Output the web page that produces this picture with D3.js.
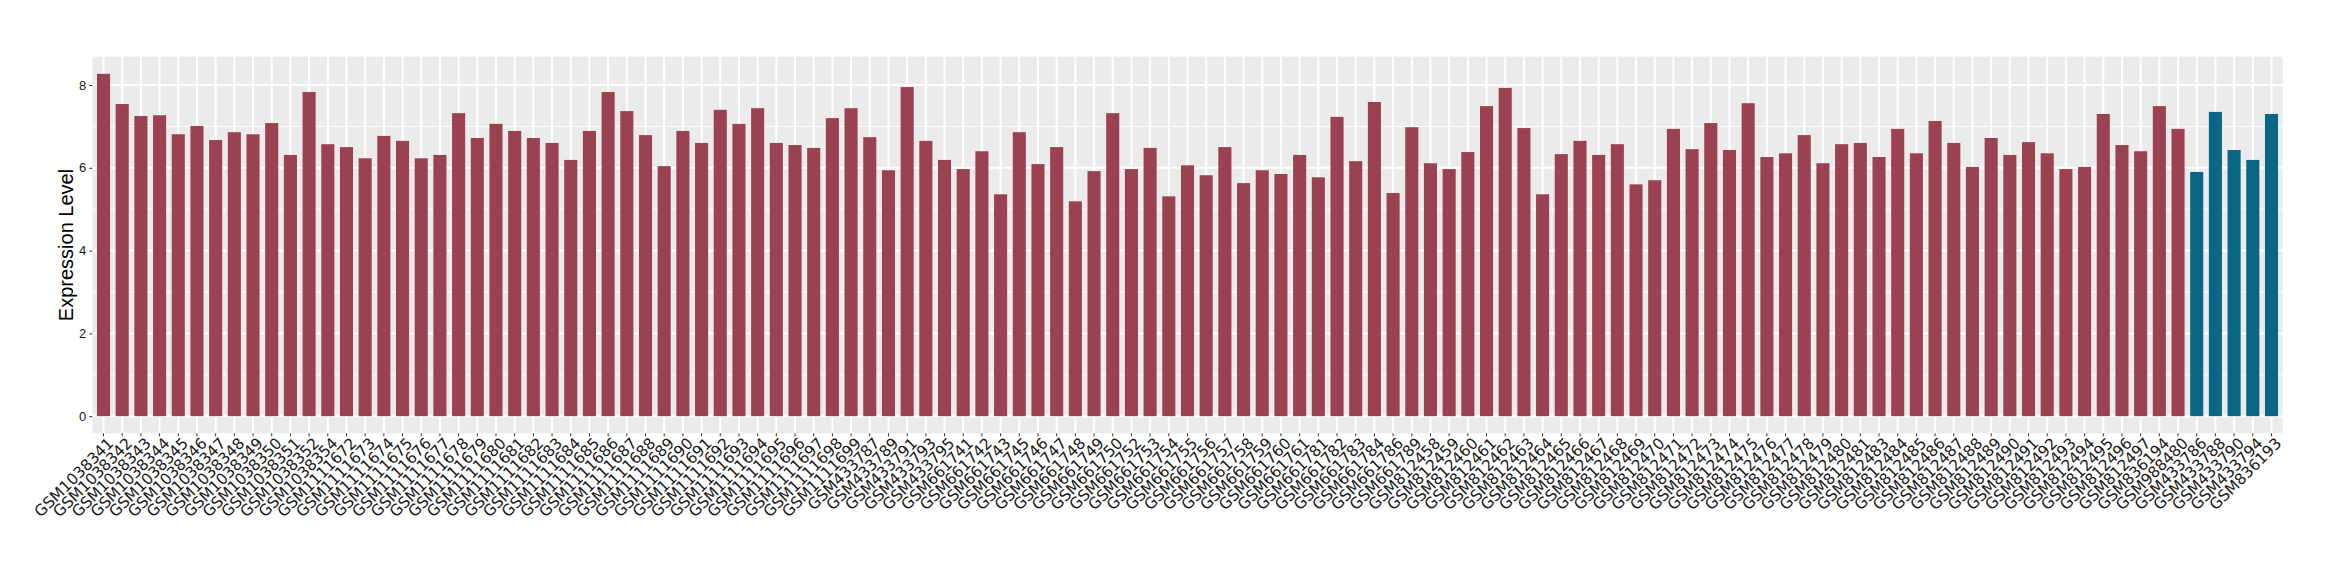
<!DOCTYPE html>
<html lang="en">
<head>
    <meta charset="UTF-8"/>
    <title>Expression Level</title>
    <script src="https://d3js.org/d3.v7.min.js"></script>
    <style>
        body { margin: 0; background: #ffffff; }
    </style>
</head>
<body>
    <div id="chart"></div>

    <script>
        // sample ids along the x axis
        var samples = [
            "GSM1038341", "GSM1038342", "GSM1038343", "GSM1038344", "GSM1038345", "GSM1038346",
            "GSM1038347", "GSM1038348", "GSM1038349", "GSM1038350", "GSM1038351", "GSM1038352",
            "GSM1038354",
            "GSM1111672", "GSM1111673", "GSM1111674", "GSM1111675", "GSM1111676", "GSM1111677",
            "GSM1111678", "GSM1111679", "GSM1111680", "GSM1111681", "GSM1111682", "GSM1111683",
            "GSM1111684", "GSM1111685", "GSM1111686", "GSM1111687", "GSM1111688", "GSM1111689",
            "GSM1111690", "GSM1111691", "GSM1111692", "GSM1111693", "GSM1111694", "GSM1111695",
            "GSM1111696", "GSM1111697", "GSM1111698", "GSM1111699",
            "GSM433787", "GSM433789", "GSM433791", "GSM433793", "GSM433795",
            "GSM661741", "GSM661742", "GSM661743", "GSM661745", "GSM661746", "GSM661747",
            "GSM661748", "GSM661749", "GSM661750", "GSM661752", "GSM661753", "GSM661754",
            "GSM661755", "GSM661756", "GSM661757", "GSM661758", "GSM661759", "GSM661760",
            "GSM661761", "GSM661781", "GSM661782", "GSM661783", "GSM661784", "GSM661786",
            "GSM661789",
            "GSM812458", "GSM812459", "GSM812460", "GSM812461", "GSM812462", "GSM812463",
            "GSM812464", "GSM812465", "GSM812466", "GSM812467", "GSM812468", "GSM812469",
            "GSM812470", "GSM812471", "GSM812472", "GSM812473", "GSM812474", "GSM812475",
            "GSM812476", "GSM812477", "GSM812478", "GSM812479", "GSM812480", "GSM812481",
            "GSM812483", "GSM812484", "GSM812485", "GSM812486", "GSM812487", "GSM812488",
            "GSM812489", "GSM812490", "GSM812491", "GSM812492", "GSM812493", "GSM812494",
            "GSM812495", "GSM812496", "GSM812497",
            "GSM836194", "GSM988480",
            "GSM433786", "GSM433788", "GSM433790", "GSM433794", "GSM836193"
        ];

        // expression level per sample
        var values = [
            8.27, 7.54, 7.25, 7.27, 6.81, 7.01, 6.67, 6.86, 6.81, 7.08, 6.31, 7.83,
            6.57,
            6.50, 6.23, 6.77, 6.65, 6.23, 6.31, 7.32, 6.72, 7.06, 6.89, 6.72, 6.60,
            6.19, 6.89, 7.83, 7.37, 6.79, 6.04, 6.89, 6.60, 7.40, 7.06, 7.44, 6.60,
            6.55, 6.48, 7.20, 7.44,
            6.74, 5.94, 7.95, 6.65, 6.19,
            5.97, 6.40, 5.36, 6.86, 6.09, 6.50, 5.19, 5.92, 7.32, 5.97, 6.48, 5.31,
            6.06, 5.82, 6.50, 5.63, 5.94, 5.85, 6.31, 5.77, 7.23, 6.16, 7.59, 5.39,
            6.98,
            6.11, 5.97, 6.38, 7.49, 7.93, 6.96, 5.36, 6.33, 6.65, 6.31, 6.57, 5.60,
            5.70, 6.94, 6.45, 7.08, 6.43, 7.56, 6.26, 6.35, 6.79, 6.11, 6.57, 6.60,
            6.26, 6.94, 6.35, 7.13, 6.60, 6.02, 6.72, 6.31, 6.62, 6.35, 5.97, 6.02,
            7.30, 6.55, 6.40,
            7.49, 6.94,
            5.90, 7.35, 6.43, 6.19, 7.30
        ];

        // samples drawn in the second colour
        var highlighted = ["GSM433786", "GSM433788", "GSM433790", "GSM433794", "GSM836193"];

        var yTicks = [0, 2, 4, 6, 8];
        var yMinor = [1, 3, 5, 7];

        var dataset = samples.map(function(s, i) { return { id: s, value: values[i] }; });

        var w = 2340;
        var h = 580;
        var panelL = 92.3, panelR = 2282.7, panelT = 56.7, panelB = 433.3;

        var maxV = d3.max(values);

        // band centres sit 0.6 steps in from the panel edges
        var xScale = d3.scaleBand()
                        .domain(samples)
                        .range([panelL, panelR])
                        .paddingInner(0)
                        .paddingOuter(0.1);
        var xCenter = function(id) { return xScale(id) + xScale.bandwidth() / 2; };
        var barW = xScale.bandwidth() * 0.7;

        var yScale = d3.scaleLinear()
                        .domain([-0.05 * maxV, maxV * 1.05])
                        .range([panelB, panelT]);

        var svg = d3.select("#chart")
                    .append("svg")
                    .attr("width", w)
                    .attr("height", h);

        // panel
        svg.append("rect")
            .attr("x", panelL)
            .attr("y", panelT)
            .attr("width", panelR - panelL)
            .attr("height", panelB - panelT)
            .attr("fill", "#EBEBEB");

        svg.selectAll("line.minor")
            .data(yMinor)
            .enter()
            .append("line")
            .attr("class", "minor")
            .attr("x1", panelL).attr("x2", panelR)
            .attr("y1", function(d) { return yScale(d); })
            .attr("y2", function(d) { return yScale(d); })
            .attr("stroke", "#ffffff")
            .attr("stroke-width", 1);

        svg.selectAll("line.major")
            .data(yTicks)
            .enter()
            .append("line")
            .attr("class", "major")
            .attr("x1", panelL).attr("x2", panelR)
            .attr("y1", function(d) { return yScale(d); })
            .attr("y2", function(d) { return yScale(d); })
            .attr("stroke", "#ffffff")
            .attr("stroke-width", 2);

        svg.selectAll("line.vgrid")
            .data(samples)
            .enter()
            .append("line")
            .attr("class", "vgrid")
            .attr("x1", function(d) { return xCenter(d); })
            .attr("x2", function(d) { return xCenter(d); })
            .attr("y1", panelT).attr("y2", panelB)
            .attr("stroke", "#ffffff")
            .attr("stroke-width", 2);

        // bars
        svg.selectAll("rect.bar")
            .data(dataset)
            .enter()
            .append("rect")
            .attr("class", "bar")
            .attr("x", function(d) { return xCenter(d.id) - barW / 2; })
            .attr("width", barW)
            .attr("y", function(d) { return yScale(d.value); })
            .attr("height", function(d) { return yScale(0) - yScale(d.value); })
            .attr("fill", function(d) { return highlighted.indexOf(d.id) >= 0 ? "#0B6685" : "#9A4251"; });

        // y axis
        var yAxis = d3.axisLeft(yScale)
                        .tickValues(yTicks)
                        .tickSize(3)
                        .tickPadding(3);
        var gy = svg.append("g")
                    .attr("transform", "translate(" + panelL + ",0)")
                    .call(yAxis);
        gy.select(".domain").remove();
        gy.selectAll("line").attr("stroke", "#333333");
        gy.selectAll("text")
            .attr("font-family", "Liberation Sans, Arial, sans-serif")
            .attr("font-size", 13)
            .attr("fill", "#1a1a1a");

        // x axis ticks and labels
        var xAxis = d3.axisBottom(xScale)
                        .tickSize(3)
                        .tickPadding(1);
        var gx = svg.append("g")
                    .attr("transform", "translate(0," + panelB + ")")
                    .call(xAxis);
        gx.select(".domain").remove();
        gx.selectAll("line").attr("stroke", "#333333");
        gx.selectAll("text")
            .attr("transform", "rotate(-45)")
            .attr("text-anchor", "end")
            .attr("x", 0)
            .attr("y", 4)
            .attr("dy", "0.75em")
            .attr("font-family", "DejaVu Sans, sans-serif")
            .attr("font-size", 15.5)
            .attr("fill", "#1a1a1a");

        // y axis title
        svg.append("text")
            .attr("transform", "translate(72.5," + ((panelT + panelB) / 2) + ") rotate(-90)")
            .attr("text-anchor", "middle")
            .attr("font-family", "Liberation Sans, Arial, sans-serif")
            .attr("font-size", 20)
            .attr("fill", "#000000")
            .text("Expression Level");
    </script>
</body>
</html>
